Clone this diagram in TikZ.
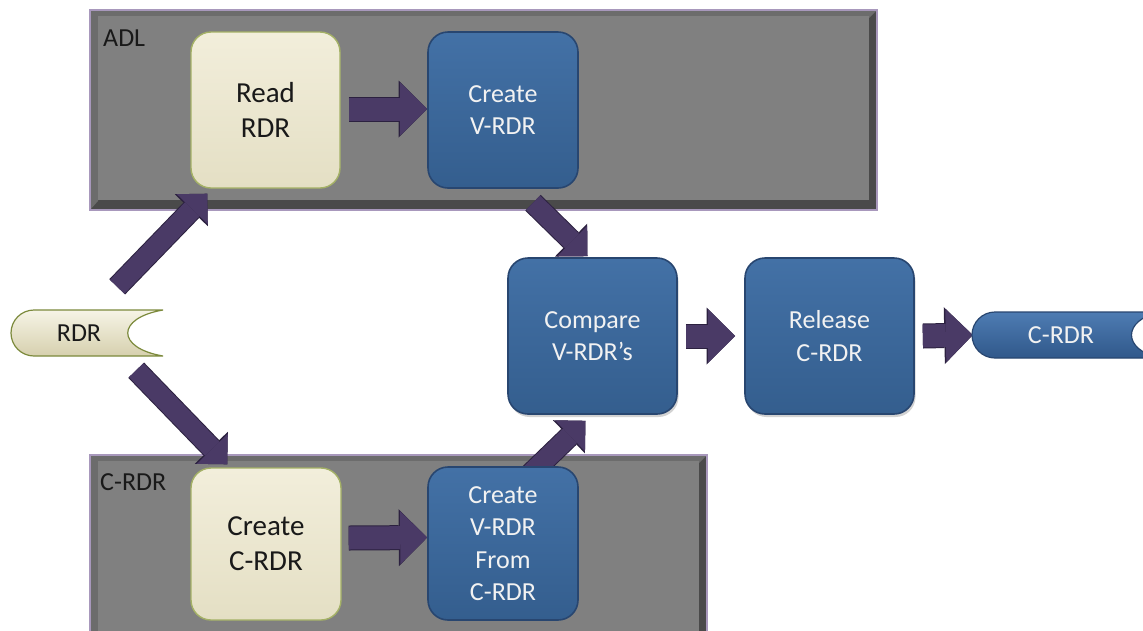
\documentclass[tikz,border=0pt]{standalone}
\usepackage{fontspec}
\setmainfont{Carlito}
\usetikzlibrary{arrows.meta,shadows,calc}
\definecolor{arrowc}{HTML}{4A3A66}
\definecolor{arrowdark}{HTML}{2C2140}
\definecolor{boxblue}{HTML}{3B6698}
\definecolor{boxblueT}{HTML}{4371A6}
\definecolor{boxblueB}{HTML}{345E8E}
\definecolor{blueedge}{HTML}{284670}
\definecolor{creamT}{HTML}{F2EEDB}
\definecolor{creamB}{HTML}{E4DFC4}
\definecolor{creamedge}{HTML}{A4B166}
\definecolor{pillT}{HTML}{F6F4E6}
\definecolor{pillB}{HTML}{D6D0AE}
\definecolor{pilledge}{HTML}{7C8A3C}
\definecolor{bpillT}{HTML}{4E7CB3}
\definecolor{bpillB}{HTML}{30588A}
\definecolor{graymid}{HTML}{808080}
\definecolor{graydark}{HTML}{4A4A4A}
\definecolor{grayleft}{HTML}{6C6C6C}
\definecolor{grayline}{HTML}{A898BC}
\pgfdeclarelayer{bg}
\pgfdeclarelayer{mid}
\pgfsetlayers{bg,mid,main}
\newcommand\bevelbox[4]{%
  \fill[graydark] (#1,#2) rectangle (#3,#4);
  \fill[grayleft] (#1,#2) -- (#3,#2) -- ($(#3,#2)+(-8,8)$) -- ($(#1,#2)+(8,8)$) -- ($(#1,#4)+(8,-9)$) -- (#1,#4) -- cycle;
  \fill[graymid] ($(#1,#2)+(8,6)$) rectangle ($(#3,#4)+(-8,-10)$);
  \draw[grayline, line width=1.2pt] (#1,#2) rectangle (#3,#4);
}
\begin{document}
\begin{tikzpicture}[x=1pt,y=-1pt,
  blk/.style={line width=23pt, draw=arrowc, -{Triangle[length=27pt,width=53pt,line width=0pt]},
    preaction={draw=arrowdark, line width=25pt, -{Triangle[length=28.5pt,width=57pt,line width=0pt]}}},
  dblk/.style={line width=20pt, draw=arrowc, -{Triangle[length=21.5pt,width=43pt,line width=0pt]},
    preaction={draw=arrowdark, line width=22pt, -{Triangle[length=23pt,width=46pt,line width=0pt]}}},
  bluebox/.style={rounded corners=20pt, draw=blueedge, line width=1.6pt,
    top color=boxblueT, bottom color=boxblueB, text=white!95!black,
    font=\fontsize{26}{32.5}\selectfont, align=center, inner sep=0pt,
    drop shadow={shadow xshift=1.5pt, shadow yshift=-3pt, opacity=0.35}},
  creambox/.style={rounded corners=20pt, draw=creamedge, line width=1.4pt,
    top color=creamT, bottom color=creamB, text=black!90,
    font=\fontsize{29}{35}\selectfont, align=center, inner sep=0pt,
    drop shadow={shadow xshift=1.5pt, shadow yshift=-3pt, opacity=0.35}},
  pilltext/.style={inner sep=0pt, font=\fontsize{26}{31}\selectfont},
  lbl/.style={anchor=north west, inner sep=0pt, text=black!90, font=\fontsize{26}{31}\selectfont}]
\useasboundingbox (0,0) rectangle (1143,630);
\clip (0,0) rectangle (1143,630);

% containers
\begin{pgfonlayer}{bg}
\clip (0,0) rectangle (1143,630);
\fill[white] (0,0) rectangle (1143,630);
\bevelbox{90}{10}{877}{210}
\bevelbox{90}{455}{707}{650}
\end{pgfonlayer}
\node[lbl] (adl) at (103,30) {ADL};
\node[lbl] (crdrlbl) at (100,473) {C-RDR};

% process boxes
\node[creambox, minimum width=149pt, minimum height=156pt] (read) at (265.5,110) {Read\\RDR};
\node[bluebox, minimum width=150pt, minimum height=156pt] (cv) at (503,110) {Create\\V-RDR};
\node[bluebox, minimum width=169pt, minimum height=156pt] (cmp) at (592.5,336) {Compare\\V-RDR’s};
\node[bluebox, minimum width=169pt, minimum height=156pt] (rel) at (829.5,336) {Release\\C-RDR};
\node[creambox, minimum width=150pt, minimum height=152pt] (cc) at (266,544) {Create\\C-RDR};
\node[bluebox, minimum width=150pt, minimum height=153pt] (cvf) at (503,543.5) {Create\\V-RDR\\From\\C-RDR};

% pills
\shade[top color=pillT, bottom color=pillB, draw=pilledge, line width=1.2pt]
  (163,310) -- (34,310) arc[start angle=270, end angle=90, radius=23] -- (163,356)
  .. controls (116,348) and (116,318) .. cycle;
\node[pilltext, text=black!90, minimum width=134pt, minimum height=46pt] (rdr) at (79,333) {RDR};
\shade[top color=bpillT, bottom color=bpillB, draw=blueedge, line width=1.2pt]
  (1160,312) -- (995,312) arc[start angle=270, end angle=90, radius=23] -- (1160,358)
  .. controls (1122,350) and (1122,320) .. cycle;
\node[pilltext, text=white!95!black, minimum width=178pt, minimum height=46pt] (crdr) at (1061,335) {C-RDR};

% arrows
\begin{pgfonlayer}{mid}
\draw[dblk] ([xshift=-29pt,yshift=23pt]rdr.north east) -- ([xshift=17pt,yshift=-5pt]read.south west);
\draw[dblk] ([xshift=-10pt,yshift=-14pt]rdr.south east) -- ([xshift=37pt,yshift=3pt]cc.north west);
\draw[blk] ([xshift=8pt,yshift=1pt]read.east) -- ([yshift=1pt]cv.west);
\draw[blk] ([xshift=7pt,yshift=6pt]cc.east) -- ([yshift=6pt]cvf.west);
\draw[dblk] ([xshift=30pt,yshift=-14pt]cv.south) -- ([xshift=-5pt,yshift=1pt]cmp.north);
\draw[dblk] ([xshift=22pt,yshift=-13pt]cvf.north) -- ([xshift=-7pt,yshift=-6pt]cmp.south);
\draw[blk] ([xshift=8pt]cmp.east) -- ([xshift=-9pt]rel.west);
\draw[blk] ([xshift=8pt]rel.east) -- ([xshift=1pt]crdr.west);
\end{pgfonlayer}
\end{tikzpicture}
\end{document}
